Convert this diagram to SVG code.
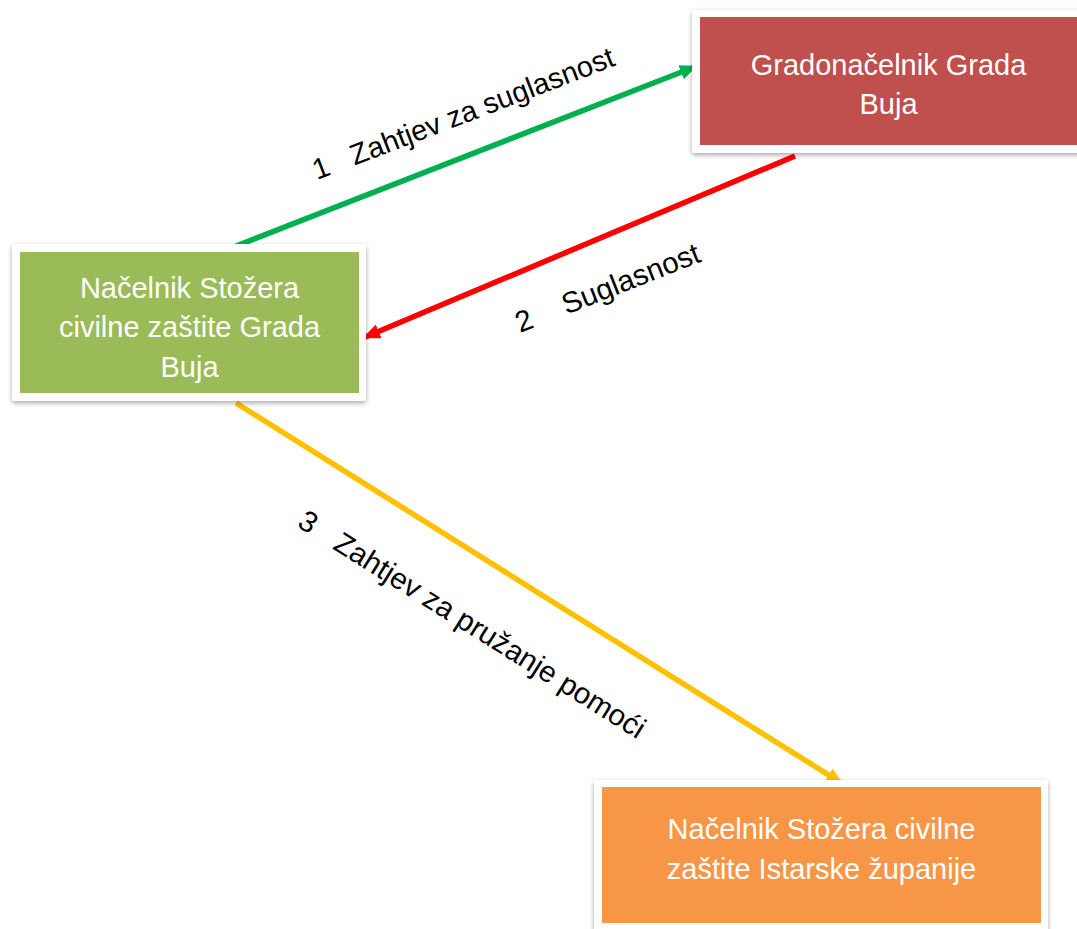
<svg xmlns="http://www.w3.org/2000/svg" width="1077" height="929" viewBox="0 0 1077 929">
<defs>
<filter id="sh" x="-10%" y="-10%" width="120%" height="130%">
<feDropShadow dx="0" dy="2" stdDeviation="2.5" flood-color="#000" flood-opacity="0.35"/>
</filter>
<marker id="ag" markerUnits="userSpaceOnUse" markerWidth="17" markerHeight="15" refX="17" refY="7.5" orient="auto"><path d="M0,0 L17,7.5 L0,15 z" fill="#00B050"/></marker>
<marker id="ar" markerUnits="userSpaceOnUse" markerWidth="17" markerHeight="15" refX="17" refY="7.5" orient="auto"><path d="M0,0 L17,7.5 L0,15 z" fill="#FF0000"/></marker>
<marker id="ay" markerUnits="userSpaceOnUse" markerWidth="17" markerHeight="15" refX="17" refY="7.5" orient="auto"><path d="M0,0 L17,7.5 L0,15 z" fill="#FFC000"/></marker>
</defs>
<style>
.frame{fill:#fff;filter:url(#sh)}
.t{font-family:"Liberation Sans",Arial,sans-serif;font-size:29px;fill:#fff;text-anchor:middle}
.l{font-family:"Liberation Sans",Arial,sans-serif;font-size:29.5px;fill:#000}
.c{fill:none;stroke-width:5.5}
</style>
<rect width="1077" height="929" fill="#fff"/>
<g id="connectors">
<line class="c" x1="236" y1="246" x2="697" y2="66" stroke="#00B050" marker-end="url(#ag)"/>
<line class="c" x1="795" y1="156" x2="363" y2="338" stroke="#FF0000" marker-end="url(#ar)"/>
<line class="c" x1="236" y1="403" x2="843" y2="784" stroke="#FFC000" marker-end="url(#ay)"/>
<text class="l" xml:space="preserve" style="font-size:29px" transform="translate(317,180) rotate(-21)">1   Zahtjev za suglasnost</text>
<text class="l" xml:space="preserve" transform="translate(520,333) rotate(-21.5)">2<tspan dx="9">   Suglasnost</tspan></text>
<text class="l" xml:space="preserve" transform="translate(296,526) rotate(32)">3<tspan dx="1">   Zahtjev za pružanje pomoći</tspan></text>
</g>
<g id="gradonacelnik">
<rect class="frame" x="692" y="10" width="400" height="143" rx="3"/>
<rect x="700" y="17" width="377" height="128" fill="#C0504D"/>
<text class="t" x="888.5" y="75">Gradonačelnik Grada</text>
<text class="t" x="888.5" y="114">Buja</text>
</g>
<g id="nacelnik-buja">
<rect class="frame" x="12" y="244" width="354" height="157" rx="3"/>
<rect x="20" y="252" width="339" height="141" fill="#9BBB59"/>
<text class="t" x="189.5" y="298">Načelnik Stožera</text>
<text class="t" x="189.5" y="337">civilne zaštite Grada</text>
<text class="t" x="189.5" y="377">Buja</text>
</g>
<g id="nacelnik-istra">
<rect class="frame" x="594" y="780" width="454" height="160" rx="3"/>
<rect x="602" y="787" width="439" height="136" fill="#F79646"/>
<text class="t" x="821.5" y="839">Načelnik Stožera civilne</text>
<text class="t" x="821.5" y="879">zaštite Istarske županije</text>
</g>
</svg>
